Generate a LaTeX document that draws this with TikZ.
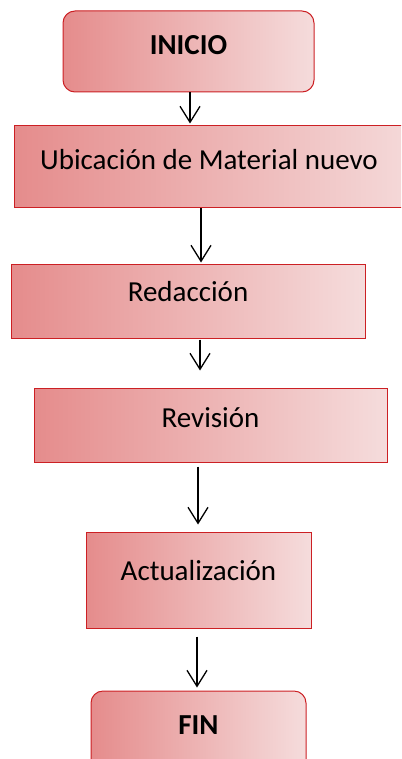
\documentclass[tikz,border=0pt]{standalone}
\usepackage{fontspec}
\setmainfont{Carlito}
\usepackage{tikz}
\usetikzlibrary{arrows.meta,positioning,calc}
\definecolor{flrojo}{RGB}{204,32,36}
\definecolor{flizq}{RGB}{229,140,140}
\definecolor{flder}{RGB}{245,220,220}
\tikzstyle{flecha} = [line width=1.3pt,-{Straight Barb[length=16pt,width=20pt,line width=1.3pt]},color=black]
\tikzstyle{caja} = [rectangle, draw=flrojo, line width=1pt, left color=flizq, right color=flder, inner sep=0pt]
\tikzstyle{inicfin} = [caja, rounded corners=12pt]
\tikzstyle{texto} = [font=\fontsize{29}{34}\selectfont, inner sep=0pt]

\begin{document}
\begin{tikzpicture}[x=1pt, y=-1pt]
\useasboundingbox (0,0) rectangle (401,759);
\clip (0,0) rectangle (401,759);
% Inicio
\node[inicfin, minimum width=251pt, minimum height=81pt] (inicio) at (188.5,51.5) {};
\node[texto, font=\fontsize{29}{34}\selectfont\bfseries] (tinicio) at (188.5,45) {INICIO};

% Ubicacion
\node[caja, minimum width=411pt, minimum height=82pt] (ubicacion) at (219.5,167) {};
\node[texto] (tubicacion) at (209,160) {Ubicación de Material nuevo};

% Redaccion
\node[caja, minimum width=354pt, minimum height=74pt] (redaccion) at (188,301) {};
\node[texto] (tredaccion) at (188,292) {Redacción};

% Revision
\node[caja, minimum width=353pt, minimum height=74pt] (revision) at (210.5,425) {};
\node[texto] (trevision) at (210.5,418) {Revisión};

% Actualizacion
\node[caja, minimum width=225pt, minimum height=96pt] (actualizacion) at (198.5,580) {};
\node[texto] (tactualizacion) at (198.5,571) {Actualización};

% Fin
\node[inicfin, minimum width=215pt, minimum height=98pt] (fin) at (198.5,740) {};
\node[texto, font=\fontsize{29}{34}\selectfont\bfseries] (tfin) at (198.5,725) {FIN};

% Flechas
\draw[flecha] ($(inicio.south)+(1.5,0)$) -- ($(ubicacion.north -| inicio.south)+(1.5,-2)$);
\draw[flecha] ($(ubicacion.south)+(-18.5,0)$) -- ($(redaccion.north -| ubicacion.south)+(-18.5,-1)$);
\draw[flecha] ($(redaccion.south)+(12,1)$) -- ($(revision.north -| redaccion.south)+(12,-17)$);
\draw[flecha] ($(revision.south)+(-12.5,4)$) -- ($(actualizacion.north -| revision.south)+(-12.5,-7)$);
\draw[flecha] ($(actualizacion.south)+(-1.5,8)$) -- ($(fin.north -| actualizacion.south)+(-1.5,-3)$);
\end{tikzpicture}
\end{document}
